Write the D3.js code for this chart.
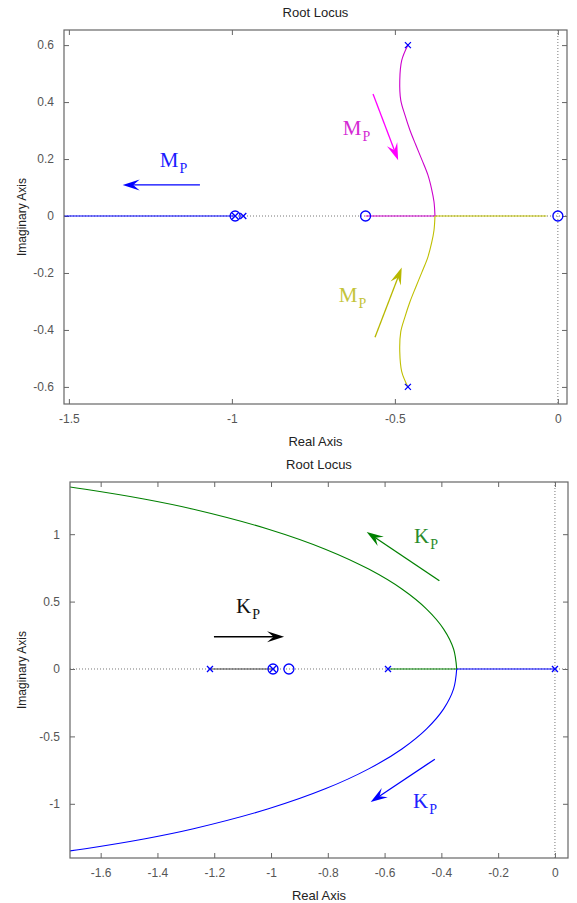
<!DOCTYPE html>
<html>
<head>
<meta charset="utf-8">
<title>Root Locus</title>
<script src="https://cdn.jsdelivr.net/npm/d3@7/dist/d3.min.js"></script>
<style>
  body { margin: 0; background: #fff; }
  text { font-family: "Liberation Sans", Arial, sans-serif; }
  .serif { font-family: "Liberation Serif", "Times New Roman", serif; }
</style>
</head>
<body>
<svg width="577" height="903" id="mainsvg"></svg>
<script>
// ---------- top chart (M_P) ----------
const topXTicks = [-1.5, -1, -0.5, 0];
const topYTicks = [-0.6, -0.4, -0.2, 0, 0.2, 0.4, 0.6];
const topPoles = [[-0.46, 0.6], [-0.46, -0.6], [-0.99, 0], [-0.965, 0]];
const topZeros = [[-0.99, 0], [-0.59, 0], [0, 0]];
const topBlue = [[-1.7, 0], [-0.99, 0]];
const topMagentaAxis = [[-0.59, 0], [-0.377, 0]];
const topYellowAxis = [[-0.377, 0], [-0.035, 0]];
const topMagentaCurve = [[-0.46, 0.6], [-0.479, 0.546], [-0.485, 0.476], [-0.482, 0.407],
  [-0.469, 0.354], [-0.454, 0.302], [-0.436, 0.25], [-0.417, 0.197], [-0.399, 0.145],
  [-0.387, 0.093], [-0.38, 0.05], [-0.377, 0]];
const topYellowCurve = [[-0.46, -0.6], [-0.479, -0.546], [-0.485, -0.476], [-0.482, -0.407],
  [-0.469, -0.354], [-0.454, -0.302], [-0.436, -0.25], [-0.417, -0.197], [-0.399, -0.145],
  [-0.387, -0.093], [-0.38, -0.05], [-0.377, 0]];
// annotation arrows [from, to] and label anchors
const topArrowBlue = [[-1.098, 0.109], [-1.335, 0.109]];
const topArrowMagenta = [[-0.567, 0.428], [-0.49, 0.196]];
const topArrowYellow = [[-0.561, -0.426], [-0.479, -0.181]];
const topLabelBlue = [-1.221, 0.172];
const topLabelMagenta = [-0.66, 0.284];
const topLabelYellow = [-0.672, -0.301];

// ---------- bottom chart (K_P) ----------
const botXTicks = [-1.6, -1.4, -1.2, -1, -0.8, -0.6, -0.4, -0.2, 0];
const botYTicks = [-1, -0.5, 0, 0.5, 1];
const botPoles = [[-1.215, 0], [-0.993, 0], [-0.588, 0], [0, 0]];
const botZeros = [[-0.993, 0], [-0.937, 0]];
const botBlack = [[-1.215, 0], [-0.993, 0]];
const botGreenAxis = [[-0.588, 0], [-0.346, 0]];
const botBlueAxis = [[0, 0], [-0.346, 0]];
const botGreenCurve = [[-0.346, 0], [-0.357, 0.148], [-0.392, 0.296], [-0.452, 0.444],
  [-0.539, 0.593], [-0.656, 0.741], [-0.809, 0.889], [-1.009, 1.037], [-1.273, 1.185],
  [-1.443, 1.259], [-1.654, 1.333], [-1.756, 1.363]];
const botBlueCurve = [[-0.346, 0], [-0.357, -0.148], [-0.392, -0.296], [-0.452, -0.444],
  [-0.539, -0.593], [-0.656, -0.741], [-0.809, -0.889], [-1.009, -1.037], [-1.273, -1.185],
  [-1.443, -1.259], [-1.654, -1.333], [-1.756, -1.363]];
const botArrowGreen = [[-0.407, 0.654], [-0.663, 1.017]];
const botArrowBlue = [[-0.423, -0.669], [-0.649, -0.987]];
const botArrowBlack = [[-1.201, 0.239], [-0.954, 0.239]];
const botLabelGreen = [-0.496, 0.933];
const botLabelBlue = [-0.5, -1.03];
const botLabelBlack = [-1.123, 0.415];

const svg = d3.select('#mainsvg');

const makePanel = function(cfg) {
  const x = d3.scaleLinear().domain(cfg.xDomain).range([cfg.left, cfg.right]);
  const y = d3.scaleLinear().domain(cfg.yDomain).range([cfg.bottom, cfg.top]);
  const g = svg.append('g');
  const w = cfg.right - cfg.left, h = cfg.bottom - cfg.top;

  g.append('clipPath').attr('id', cfg.id)
    .append('rect').attr('x', cfg.left).attr('y', cfg.top).attr('width', w).attr('height', h);

  // axes (ticks inward on all four sides)
  const tickFmt = d => d3.format('')(d).replace('−', '-');
  const xb = g.append('g').attr('transform', `translate(0,${cfg.bottom})`)
    .call(d3.axisBottom(x).tickValues(cfg.xTicks).tickSize(-5).tickPadding(10).tickFormat(tickFmt));
  const xt = g.append('g').attr('transform', `translate(0,${cfg.top})`)
    .call(d3.axisTop(x).tickValues(cfg.xTicks).tickSize(-5).tickFormat(''));
  const yl = g.append('g').attr('transform', `translate(${cfg.left},0)`)
    .call(d3.axisLeft(y).tickValues(cfg.yTicks).tickSize(-5).tickPadding(10).tickFormat(tickFmt));
  const yr = g.append('g').attr('transform', `translate(${cfg.right},0)`)
    .call(d3.axisRight(y).tickValues(cfg.yTicks).tickSize(-5).tickFormat(''));
  [xb, xt, yl, yr].forEach(a => {
    a.selectAll('.domain').remove();
    a.selectAll('line').attr('stroke', '#666');
    a.selectAll('text').attr('fill', '#555').style('font-size', '12px')
      .style('font-family', '"Liberation Sans", Arial, sans-serif');
  });

  const plot = g.append('g').attr('clip-path', `url(#${cfg.id})`);

  // dotted zero lines
  plot.append('line').attr('x1', cfg.left).attr('x2', cfg.right).attr('y1', y(0)).attr('y2', y(0))
    .attr('stroke', '#777').attr('stroke-dasharray', '1,2');
  plot.append('line').attr('x1', x(0)).attr('x2', x(0)).attr('y1', cfg.top).attr('y2', cfg.bottom)
    .attr('stroke', '#777').attr('stroke-dasharray', '1,2');

  const straight = d3.line().x(d => x(d[0])).y(d => y(d[1]));
  const smooth = d3.line().x(d => x(d[0])).y(d => y(d[1])).curve(d3.curveCatmullRom);
  cfg.lines.forEach(l => {
    plot.append('path').attr('d', (l.smooth ? smooth : straight)(l.data))
      .attr('fill', 'none').attr('stroke', l.color).attr('stroke-width', 1.1);
  });

  // zeros and poles
  plot.selectAll('.zero').data(cfg.zeros).enter().append('circle')
    .attr('cx', d => x(d[0])).attr('cy', d => y(d[1])).attr('r', 5)
    .attr('fill', 'none').attr('stroke', '#0000ff').attr('stroke-width', 1.3);
  const s = 3;
  plot.selectAll('.pole').data(cfg.poles).enter().append('path')
    .attr('d', d => `M${x(d[0]) - s},${y(d[1]) - s}L${x(d[0]) + s},${y(d[1]) + s}M${x(d[0]) - s},${y(d[1]) + s}L${x(d[0]) + s},${y(d[1]) - s}`)
    .attr('stroke', '#0000ff').attr('stroke-width', 1.3);

  // arrows
  cfg.arrows.forEach(a => {
    const p0 = [x(a.data[0][0]), y(a.data[0][1])];
    const p1 = [x(a.data[1][0]), y(a.data[1][1])];
    const len = Math.hypot(p1[0] - p0[0], p1[1] - p0[1]);
    const ux = (p1[0] - p0[0]) / len, uy = (p1[1] - p0[1]) / len;
    const nx = -uy, ny = ux, L = 17, W = 5.5;
    g.append('line').attr('x1', p0[0]).attr('y1', p0[1])
      .attr('x2', p1[0] - ux * 10).attr('y2', p1[1] - uy * 10)
      .attr('stroke', a.color).attr('stroke-width', 1.3);
    const head = [
      [p1[0], p1[1]],
      [p1[0] - ux * L + nx * W, p1[1] - uy * L + ny * W],
      [p1[0] - ux * L * 0.62, p1[1] - uy * L * 0.62],
      [p1[0] - ux * L - nx * W, p1[1] - uy * L - ny * W]
    ];
    g.append('polygon').attr('points', head.map(p => p.join(',')).join(' ')).attr('fill', a.color);
  });

  // labels with subscript
  cfg.labels.forEach(l => {
    const t = g.append('text').attr('class', 'serif')
      .attr('x', x(l.pos[0])).attr('y', y(l.pos[1]))
      .attr('fill', l.color).style('font-size', '21px').text(l.main);
    t.append('tspan').attr('dx', 1).attr('dy', 6).style('font-size', '14px').text('P');
  });

  // box
  g.append('rect').attr('x', cfg.left).attr('y', cfg.top).attr('width', w).attr('height', h)
    .attr('fill', 'none').attr('stroke', '#666').attr('stroke-width', 1.2);

  // titles
  const cx = (cfg.left + cfg.right) / 2;
  g.append('text').attr('x', cx).attr('y', cfg.top - 13).attr('text-anchor', 'middle')
    .attr('fill', '#222').style('font-size', '13px').text('Root Locus');
  g.append('text').attr('x', cx).attr('y', cfg.bottom + 42).attr('text-anchor', 'middle')
    .attr('fill', '#222').style('font-size', '13px').text('Real Axis');
  g.append('text').attr('transform', `translate(26,${(cfg.top + cfg.bottom) / 2}) rotate(-90)`)
    .attr('text-anchor', 'middle').attr('fill', '#222').style('font-size', '12px').text('Imaginary Axis');
};

makePanel({
  id: 'clipTop', left: 64, right: 567, top: 30, bottom: 404,
  xDomain: [-1.515, 0.028], yDomain: [-0.66, 0.653],
  xTicks: topXTicks, yTicks: topYTicks,
  poles: topPoles, zeros: topZeros,
  lines: [
    {data: topBlue, color: '#0000ff'},
    {data: topMagentaAxis, color: '#cc00cc'},
    {data: topYellowAxis, color: '#bfbf00'},
    {data: topMagentaCurve, color: '#cc00cc', smooth: true},
    {data: topYellowCurve, color: '#bfbf00', smooth: true}
  ],
  arrows: [
    {data: topArrowBlue, color: '#0000ff'},
    {data: topArrowMagenta, color: '#ff00ff'},
    {data: topArrowYellow, color: '#b8b800'}
  ],
  labels: [
    {pos: topLabelBlue, main: 'M', color: '#1a1aff'},
    {pos: topLabelMagenta, main: 'M', color: '#d42ad4'},
    {pos: topLabelYellow, main: 'M', color: '#c4c43a'}
  ]
});

makePanel({
  id: 'clipBot', left: 70, right: 568, top: 482, bottom: 858,
  xDomain: [-1.708, 0.046], yDomain: [-1.402, 1.387],
  xTicks: botXTicks, yTicks: botYTicks,
  poles: botPoles, zeros: botZeros,
  lines: [
    {data: botBlack, color: '#444'},
    {data: botGreenAxis, color: '#008000'},
    {data: botBlueAxis, color: '#0000ff'},
    {data: botGreenCurve, color: '#008000', smooth: true},
    {data: botBlueCurve, color: '#0000ff', smooth: true}
  ],
  arrows: [
    {data: botArrowGreen, color: '#008000'},
    {data: botArrowBlue, color: '#0000ff'},
    {data: botArrowBlack, color: '#000'}
  ],
  labels: [
    {pos: botLabelGreen, main: 'K', color: '#2a8a2a'},
    {pos: botLabelBlue, main: 'K', color: '#2020ff'},
    {pos: botLabelBlack, main: 'K', color: '#111'}
  ]
});
</script>
</body>
</html>
